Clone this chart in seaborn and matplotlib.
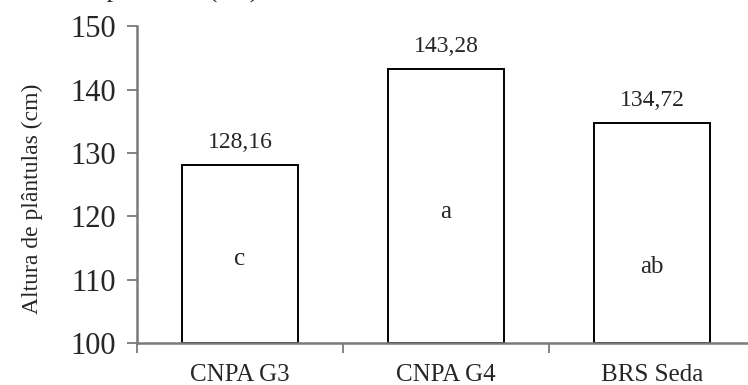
import matplotlib
matplotlib.use("Agg")
import matplotlib.pyplot as plt
import seaborn as sns
import pandas as pd

# data
cultivares = ['CNPA G3', 'CNPA G4', 'BRS Seda']
altura = [128.16, 143.28, 134.72]
letras = ['c', 'a', 'ab']
letra_y = [113.2, 120.6, 112.0]
y_ticks = [100, 110, 120, 130, 140, 150]

sns.set_style('white')
plt.rcParams['font.family'] = ['Liberation Serif', 'DejaVu Serif']

df = pd.DataFrame({'cultivar': cultivares, 'altura': altura})

fig = plt.figure(figsize=(7.48, 3.85), dpi=100)
ax = fig.add_axes([0.1832, 0.109, 0.826, 0.823])

sns.barplot(data=df, x='cultivar', y='altura', color='white', edgecolor='black',
            linewidth=1.4, width=0.56, saturation=1, ax=ax)

# start bars at the axis floor so the bottom edge is drawn
for p in ax.patches:
    h = p.get_height()
    p.set_y(100)
    p.set_height(h - 100)

ax.set_ylim(100, 150)
ax.set_xlim(-0.5, 2.5)
ax.set_yticks(y_ticks)
ax.tick_params(axis='y', direction='out', length=7, width=1.3, color='#7a7a7a',
               labelsize=22, pad=8, left=True)

# major x ticks at category boundaries, labels at centres
ax.set_xticks([-0.5, 0.5, 1.5, 2.5])
ax.set_xticklabels([])
ax.set_xticks(range(len(cultivares)), minor=True)
ax.set_xticklabels(cultivares, minor=True)
ax.tick_params(axis='x', which='major', direction='out', length=7, width=1.3,
               color='#7a7a7a', bottom=True)
ax.tick_params(axis='x', which='minor', length=0, labelsize=18, pad=15)
ax.set_xlabel('')

ax.set_ylabel('Altura de plântulas (cm)', fontsize=17)
ax.yaxis.set_label_coords(-0.153, 0.456)

for s in ['top', 'right']:
    ax.spines[s].set_visible(False)
for s in ['left', 'bottom']:
    ax.spines[s].set_color('#7a7a7a')
    ax.spines[s].set_linewidth(1.8)

for i, v in enumerate(altura):
    ax.annotate(f'{v:.2f}'.replace('.', ','), (i, v), xytext=(0, 12),
                textcoords='offset points', ha='center', va='baseline', fontsize=17)

for i, (l, y) in enumerate(zip(letras, letra_y)):
    ax.text(i, y, l, ha='center', va='center', fontsize=18)

# caption cut off at the top edge of the original picture
fig.text(0.345, 1.006, 'Altura de plântulas (cm)', ha='right', va='baseline', fontsize=19)

fig.savefig('out.png', dpi=100)
